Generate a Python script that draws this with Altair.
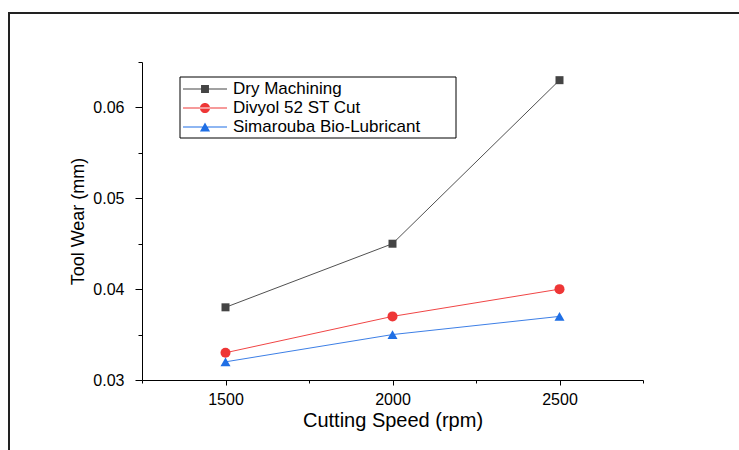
import altair as alt
import pandas as pd

# ---- data ----
speeds = [1500, 2000, 2500]
series_names = ["Dry Machining", "Divyol 52 ST Cut", "Simarouba Bio-Lubricant"]
dry = [0.038, 0.045, 0.063]
divyol = [0.033, 0.037, 0.040]
simarouba = [0.032, 0.035, 0.037]

line_colors = ["#505050", "#f04545", "#3d7fe6"]
marker_colors = ["#444444", "#ee3636", "#1f6fe5"]
marker_shapes = ["square", "circle", "triangle-up"]
marker_sizes = [64, 100, 100]

x_ticks = [1250, 1500, 1750, 2000, 2250, 2500, 2750]
y_ticks = [0.03, 0.035, 0.04, 0.045, 0.05, 0.055, 0.06, 0.065]

# legend symbols: line segment + marker, drawn in a unit box (1 unit = 22 px)
legend_paths = [
    "M-1,-0.023H1V0.023H-1Z M-0.18,-0.18H0.18V0.18H-0.18Z",
    "M-1,-0.023H1V0.023H-1Z M-0.23,0A0.23,0.23 0 1,0 0.23,0A0.23,0.23 0 1,0 -0.23,0Z",
    "M-1,-0.023H1V0.023H-1Z M0,-0.2L0.23,0.2L-0.23,0.2Z",
]

rows = []
for name, vals, lc, mc, sh, sz in zip(series_names, [dry, divyol, simarouba],
                                      line_colors, marker_colors, marker_shapes, marker_sizes):
    for s, v in zip(speeds, vals):
        rows.append({"speed": s, "wear": v, "series": name,
                     "lcol": lc, "mcol": mc, "shp": sh, "sz": sz})
df = pd.DataFrame(rows)

FONT = "Liberation Sans"

x_enc = alt.X(
    "speed:Q",
    scale=alt.Scale(domain=[1250, 2750], nice=False, zero=False),
    axis=alt.Axis(
        values=x_ticks, title="Cutting Speed (rpm)",
        labelExpr="datum.value % 500 == 0 ? format(datum.value, 'd') : ''",
        tickSize={"condition": {"test": "datum.value % 500 != 0", "value": 3}, "value": 5},
        grid=False, labelFontSize=16, titleFontSize=20, labelPadding=6, titlePadding=3,
        labelFlush=False, labelOverlap=False,
    ),
)
y_enc = alt.Y(
    "wear:Q",
    scale=alt.Scale(domain=[0.03, 0.065], nice=False, zero=False),
    axis=alt.Axis(
        values=y_ticks, title="Tool Wear (mm)",
        labelExpr="round(datum.value * 1000) % 10 == 0 ? format(datum.value, '.2f') : ''",
        tickSize={"condition": {"test": "round(datum.value * 1000) % 10 != 0", "value": 4}, "value": 7},
        grid=False, labelFontSize=16, titleFontSize=18, labelPadding=11, titlePadding=5,
        labelOverlap=False,
    ),
)

base = alt.Chart(df)

lines = base.mark_line(strokeWidth=1).encode(
    x=x_enc, y=y_enc,
    color=alt.Color("lcol:N", scale=None),
    detail="series:N",
)

points = base.mark_point(filled=True, opacity=1, strokeWidth=0).encode(
    x=x_enc, y=y_enc,
    color=alt.Color("mcol:N", scale=None),
    shape=alt.Shape("shp:N", scale=None),
    size=alt.Size("sz:Q", scale=None),
)

legend_layer = base.mark_point(filled=True, opacity=1).encode(
    color=alt.Color("series:N", scale=alt.Scale(domain=series_names, range=marker_colors),
                    legend=alt.Legend(title=None)),
    shape=alt.Shape("series:N", scale=alt.Scale(domain=series_names, range=legend_paths),
                    legend=alt.Legend(title=None)),
).transform_filter("false")

one = pd.DataFrame({"k": [0]})
legend_box = alt.Chart(one).mark_rect(filled=False, stroke="black", strokeWidth=1).encode(
    x=alt.value(38), x2=alt.value(314), y=alt.value(15), y2=alt.value(76)
)
frame_top = alt.Chart(one).mark_rule(color="#222222", strokeWidth=2).encode(
    x=alt.value(-133), x2=alt.value(700), y=alt.value(-49)
)
frame_left = alt.Chart(one).mark_rule(color="#222222", strokeWidth=2).encode(
    x=alt.value(-133), y=alt.value(-50), y2=alt.value(500)
)

chart = alt.layer(frame_top, frame_left, lines, points, legend_layer, legend_box).properties(
    width=501, height=318,
    autosize=alt.AutoSizeParams(type="none"),
    padding={"left": 142, "top": 62, "right": 96, "bottom": 70},
    background="white",
).configure(
    font=FONT,
).configure_view(
    stroke=None,
).configure_axis(
    domainColor="black", tickColor="black", labelColor="black", titleColor="black",
    domainWidth=1, tickWidth=1, labelFont=FONT, titleFont=FONT, titleFontWeight="normal",
).configure_legend(
    orient="none", legendX=38, legendY=15, padding=3, clipHeight=18,
    labelFont=FONT, labelFontSize=17, labelColor="black", labelLimit=0,
    symbolSize=1936, symbolOffset=0, labelOffset=6, rowPadding=1,
    symbolStrokeWidth=0, strokeColor=None,
)

chart.save("out.html", embed_options={"renderer": "svg", "actions": False})
